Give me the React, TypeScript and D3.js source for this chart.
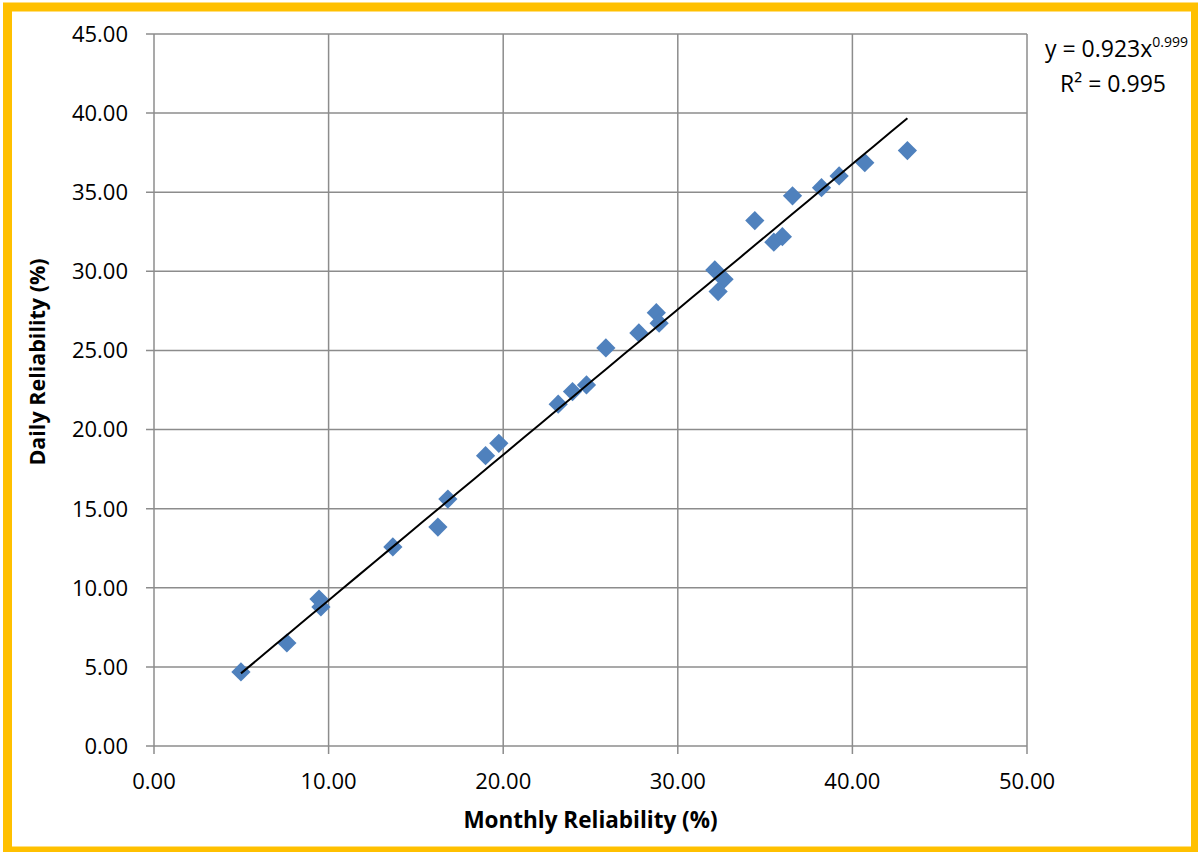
import React, { useEffect, useRef } from 'react';
import * as d3 from 'd3';

// values
const monthly = [4.98, 7.61, 9.45, 9.56, 13.68, 16.26, 16.83, 18.99, 19.75, 23.15, 23.97, 24.77, 25.88, 27.77,
  28.77, 28.93, 32.12, 32.65, 32.31, 34.41, 35.5, 35.99, 36.57, 38.23, 39.24, 40.71, 43.15];
const daily = [4.68, 6.51, 9.29, 8.79, 12.58, 13.84, 15.61, 18.35, 19.13, 21.6, 22.4, 22.82, 25.16, 26.11,
  27.39, 26.72, 30.09, 29.5, 28.72, 33.21, 31.84, 32.19, 34.77, 35.29, 36.03, 36.87, 37.63];
const xTicks = [0, 10, 20, 30, 40, 50];
const yTicks = [0, 5, 10, 15, 20, 25, 30, 35, 40, 45];
// power trendline y = a * x^b
const fitA = 0.923;
const fitB = 0.999;

const W = 1198, H = 852;
const FONT = "'Open Sans', 'Liberation Sans', sans-serif";

export default function App() {
  const ref = useRef<SVGSVGElement>(null);

  useEffect(() => {
    document.body.style.margin = '0';
    const svg = d3.select(ref.current);
    svg.selectAll('*').remove();

    const margin = { top: 34, right: 171, bottom: 106, left: 154 };
    const x = d3.scaleLinear().domain([0, 50]).range([margin.left, W - margin.right]);
    const y = d3.scaleLinear().domain([0, 45]).range([H - margin.bottom, margin.top]);

    svg.append('rect').attr('width', W).attr('height', H).attr('fill', '#fff');

    // gridlines
    const grid = svg.append('g').attr('stroke', '#8c8c8c').attr('stroke-width', 1.5);
    grid.selectAll('line.h').data(yTicks).enter().append('line')
      .attr('x1', x(0) - 8).attr('x2', x(50))
      .attr('y1', d => y(d)).attr('y2', d => y(d));
    grid.selectAll('line.v').data(xTicks).enter().append('line')
      .attr('x1', d => x(d)).attr('x2', d => x(d))
      .attr('y1', y(45)).attr('y2', y(0) + 8);

    // tick labels
    svg.append('g').selectAll('text').data(yTicks).enter().append('text')
      .attr('x', x(0) - 26).attr('y', d => y(d)).attr('dy', '0.36em')
      .attr('text-anchor', 'end').attr('font-family', FONT).attr('font-size', 22).attr('fill', '#000')
      .text(d => d.toFixed(2));
    svg.append('g').selectAll('text').data(xTicks).enter().append('text')
      .attr('x', d => x(d)).attr('y', y(0) + 35).attr('dy', '0.36em')
      .attr('text-anchor', 'middle').attr('font-family', FONT).attr('font-size', 22).attr('fill', '#000')
      .text(d => d.toFixed(2));

    // points
    const pts = monthly.map((m, i) => [m, daily[i]]);
    svg.append('g').selectAll('path').data(pts).enter().append('path')
      .attr('d', d3.symbol(d3.symbolSquare, 185)())
      .attr('transform', d => `translate(${x(d[0])},${y(d[1])}) rotate(45)`)
      .attr('fill', '#4f81bd');

    // trendline
    const xs = d3.extent(monthly) as [number, number];
    const steps = d3.range(0, 41).map(i => xs[0] + (xs[1] - xs[0]) * i / 40);
    const line = d3.line<number>().x(d => x(d)).y(d => y(fitA * Math.pow(d, fitB)));
    svg.append('path').datum(steps).attr('d', line).attr('fill', 'none')
      .attr('stroke', '#000').attr('stroke-width', 2);

    // equation
    const eq = svg.append('text').attr('x', 1045).attr('y', 57)
      .attr('font-family', FONT).attr('font-size', 23).attr('fill', '#000');
    eq.append('tspan').text(`y = ${fitA}x`);
    eq.append('tspan').attr('font-size', 14).attr('dy', -10).text(fitB.toFixed(3));
    svg.append('text').attr('x', 1113).attr('y', 92).attr('text-anchor', 'middle')
      .attr('font-family', FONT).attr('font-size', 23).attr('fill', '#000')
      .text('R² = 0.995');

    // axis titles
    svg.append('text').attr('x', (x(0) + x(50)) / 2).attr('y', 828).attr('text-anchor', 'middle')
      .attr('font-family', FONT).attr('font-size', 22.5).attr('font-weight', 'bold').attr('fill', '#000')
      .text('Monthly Reliability (%)');
    svg.append('text').attr('transform', `translate(45,362) rotate(-90)`).attr('text-anchor', 'middle')
      .attr('font-family', FONT).attr('font-size', 21.5).attr('font-weight', 'bold').attr('fill', '#000')
      .text('Daily Reliability (%)');

    // frame
    svg.append('rect').attr('x', 7.5).attr('y', 7).attr('width', 1188).attr('height', 844)
      .attr('fill', 'none').attr('stroke', '#ffc000').attr('stroke-width', 9);
  }, []);

  return <svg ref={ref} width={W} height={H} style={{ display: 'block' }} />;
}
